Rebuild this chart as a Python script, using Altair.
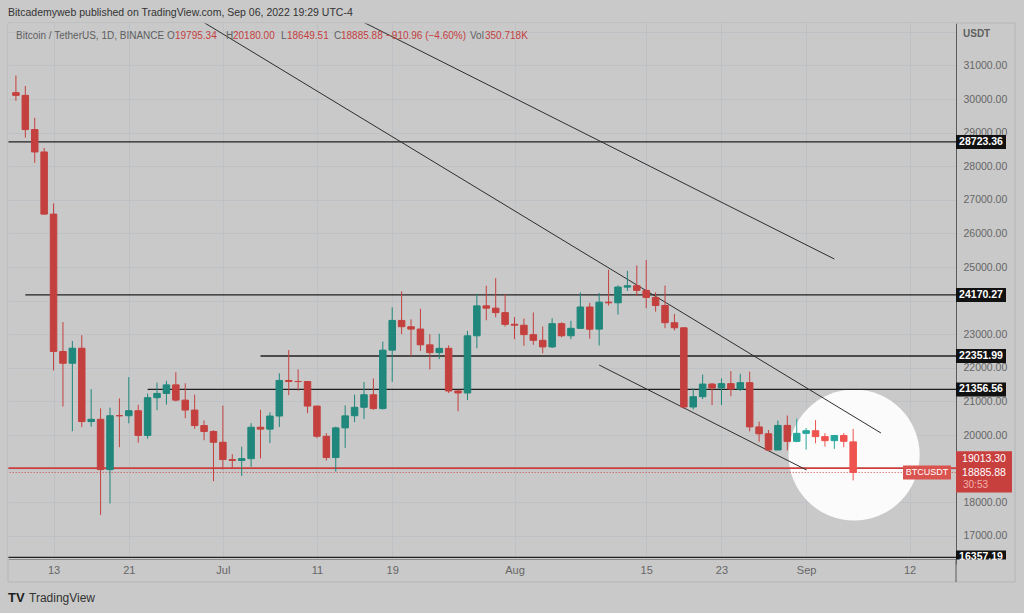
import altair as alt
import pandas as pd

# ---------------- data ----------------
dates = pd.date_range("2022-06-09", "2022-09-06", freq="D").strftime("%Y-%m-%d").tolist()

opens = [30189, 30109, 29091, 28424, 26574, 22485, 22136, 22583, 20401, 20468, 18970, 20575, 20574, 20723, 19988, 21111, 21237, 21492, 21038, 20742, 20281, 20105,
         19785, 19270, 19243, 19297, 20232, 20175, 20565, 21624, 21594, 21592, 20862, 19963, 19329, 20213, 20574, 20825, 21198, 20786, 22526, 23410, 23222, 23153, 22684, 22452, 22579, 21311, 21251, 22953, 23845, 23776, 23642,
         23296, 23268, 22986, 22818, 22622, 23313, 22954, 23175, 23810, 23151, 23954, 23934, 24402, 24443, 24305, 24094, 23856, 23342, 23191, 20834, 21140, 21516, 21400, 21529, 21368, 21559, 20240, 20037, 19555, 20286, 19812,
         20050, 20127, 19952, 19832, 19986, 19796]
highs = [30700, 30387, 29440, 28544, 26895, 23362, 22800, 22974, 21365, 20792, 20815, 21090, 21723, 20900, 21233, 21558, 21614, 21868, 21540, 21198, 20432, 20142,
         20876, 19430, 19653, 20354, 20750, 20675, 21838, 22527, 21951, 21600, 20863, 20055, 20250, 20880, 21200, 21578, 21684, 22780, 23800, 24276, 23442, 23756, 22998, 23014, 22666, 21347, 23100, 24199, 24442, 24668, 24194,
         23509, 23466, 23647, 23228, 23475, 23354, 23400, 24245, 23933, 24226, 24918, 24456, 24888, 25047, 25211, 24247, 24446, 23600, 23208, 21382, 21800, 21548, 21684, 21900, 21819, 21886, 20399, 20148, 20433, 20580, 20489,
         20208, 20444, 20055, 20000, 20058, 20180]
lows = [29944, 28850, 28099, 26560, 21925, 20846, 20111, 20233, 20247, 17622, 17960, 19637, 20348, 19770, 19890, 20740, 20906, 21000, 20500, 20183, 19846, 18626,
        18975, 19000, 18781, 19055, 19305, 19761, 20238, 21189, 21319, 20650, 19900, 19240, 18910, 19617, 20383, 20475, 20752, 20761, 21583, 23000, 22341, 22500, 21950, 22258, 21250, 20706, 21042, 22582, 23414, 23502, 23227,
        22850, 22655, 22681, 22432, 22589, 22909, 22850, 23154, 22865, 22664, 23852, 23583, 24289, 24144, 23773, 23671, 23180, 23111, 20783, 20761, 21069, 20890, 20891, 21154, 21310, 20107, 19800, 19520, 19550, 19540, 19785,
        19565, 19754, 19655, 19587, 19636, 18649]
closes = [30109, 29091, 28424, 26574, 22487, 22136, 22583, 20401, 20468, 18970, 20574, 20574, 20723, 19987, 21110, 21237, 21491, 21038, 20743, 20281, 20104, 19785,
          19270, 19243, 19297, 20231, 20175, 20564, 21624, 21594, 21591, 20862, 19963, 19329, 20212, 20570, 20825, 21198, 20786, 22525, 23410, 23223, 23152, 22684, 22452, 22579, 21310, 21251, 22952, 23843, 23775, 23642, 23293,
          23268, 22988, 22819, 22622, 23313, 22954, 23175, 23810, 23149, 23954, 23934, 24403, 24442, 24305, 24094, 23854, 23342, 23191, 20834, 21140, 21516, 21399, 21529, 21368, 21559, 20241, 20037, 19555, 20285, 19811, 20050,
          20127, 19952, 19832, 19986, 19813, 18886]

# x-axis ticks
tick_dates = ["2022-06-13", "2022-06-21", "2022-07-01", "2022-07-11", "2022-07-19",
              "2022-08-01", "2022-08-15", "2022-08-23", "2022-09-01", "2022-09-12"]
tick_labels = ["13", "21", "Jul", "11", "19", "Aug", "15", "23", "Sep", "12"]
price_ticks = [17000, 18000, 19000, 20000, 21000, 22000, 23000, 24000, 25000,
               26000, 27000, 28000, 29000, 30000, 31000, 32000]
hidden_ticks = [19000, 24000, 32000]   # covered by price tags / replaced by "USDT"

# horizontal levels drawn by the author
level_prices = [28723.36, 24170.27, 22351.99, 21356.56, 16357.19]
level_start = ["2022-06-01", "2022-06-10", "2022-07-05", "2022-06-23", "2022-06-01"]
level_end = "2022-10-31"
red_level = 19013.30
last_price = 18885.88

# trend lines: (line id, days after 13 Jun, price)
trend_id = ["a", "a", "b", "b", "c", "c"]
trend_day = [15.9, 87.95, 32.9, 83.0, 58.0, 80.05]
trend_price = [32292, 20060, 32292, 25238, 22083, 18958]

# highlight circle (days after 13 Jun, price)
circle_day = [85.1]
circle_price = [19405]
highlight_from = "2022-08-31"

# ---------------- derived tables ----------------
REF = pd.Timestamp("2022-06-13")
def day_of(s):
    return (pd.to_datetime(s) - REF).days

df = pd.DataFrame({"date": dates, "open": opens, "high": highs, "low": lows, "close": closes})
df["day"] = [day_of(d) for d in dates]
hi_day = day_of(highlight_from)
df["tone"] = [("up" if c >= o else "down") + ("_hi" if d >= hi_day else "")
              for o, c, d in zip(df["open"], df["close"], df["day"])]

levels = pd.DataFrame({"price": level_prices,
                       "start": [day_of(s) for s in level_start],
                       "end": [day_of(level_end)] * len(level_prices),
                       "label": [f"{p:.2f}" for p in level_prices]})
trends = pd.DataFrame({"id": trend_id, "day": trend_day, "price": trend_price})
circle = pd.DataFrame({"day": circle_day, "price": circle_price})
redlv = pd.DataFrame({"price": [red_level], "start": [day_of("2022-06-01")], "end": [day_of(level_end)]})
lastp = pd.DataFrame({"price": [last_price], "start": [day_of("2022-06-01")], "end": [day_of(level_end)]})
redbox = pd.DataFrame({"top": [red_level], "bottom": [last_price]})

tick_days = [day_of(d) for d in tick_dates]
x_label_expr = " : ".join([f"datum.value == {d} ? '{l}'" for d, l in zip(tick_days, tick_labels)]) + " : ''"
y_label_expr = (" || ".join([f"datum.value == {v}" for v in hidden_ticks])
                + " ? '' : format(datum.value, '.2f')")

# ---------------- styling ----------------
W, H = 948, 536
BG = "#c9c9c9"
GRID = "#bec1c6"
RED = "#c4403e"
GREEN = "#1f877b"
TXT = "#666666"
FONT = "Liberation Sans"

x_scale = alt.Scale(domain=[-4.31, 95.4], nice=False, zero=False)
y_scale = alt.Scale(domain=[16310, 32262], nice=False, zero=False)
x_axis = alt.Axis(values=tick_days, labelExpr=x_label_expr, grid=True, gridColor=GRID,
                  ticks=False, domainColor="#8c8c8c", labelColor=TXT, labelFontSize=11,
                  labelFont="Liberation Sans Narrow, Liberation Sans", labelPadding=5,
                  title=None, labelFlush=False, labelOverlap=False)
y_axis = alt.Axis(orient="right", values=price_ticks, labelExpr=y_label_expr,
                  grid=True, gridColor=GRID, ticks=False, domainColor="#5a5a5a",
                  labelColor=TXT, labelFontSize=10.5, labelFont=FONT, labelPadding=7,
                  labelAlign="left", title=None, labelOverlap=False)

def X(f):
    return alt.X(f, type="quantitative", scale=x_scale, axis=x_axis)

def Y(f):
    return alt.Y(f, type="quantitative", scale=y_scale, axis=y_axis)

tone_scale = alt.Scale(domain=["up", "down", "up_hi", "down_hi"],
                       range=[GREEN, RED, "#26a69a", "#ef5350"])

layers = []

# spotlight circle
layers.append(alt.Chart(circle).mark_point(filled=True, shape="circle", size=17200,
                                            color="white", opacity=0.93, clip=True)
              .encode(x=X("day"), y=Y("price")))

# horizontal levels
layers.append(alt.Chart(levels).mark_rule(color="#202020", strokeWidth=1.3, clip=True)
              .encode(x=X("start"), x2="end", y=Y("price")))
layers.append(alt.Chart(redlv).mark_rule(color="#cc3f3d", strokeWidth=1.6, clip=True)
              .encode(x=X("start"), x2="end", y=Y("price")))
layers.append(alt.Chart(lastp).mark_rule(color="#cc3f3d", strokeWidth=1, strokeDash=[1, 2], clip=True)
              .encode(x=X("start"), x2="end", y=Y("price")))

# trend lines
layers.append(alt.Chart(trends).mark_line(color="#2e2e2e", strokeWidth=1, clip=True)
              .encode(x=X("day"), y=Y("price"), detail="id:N"))

# candles
base = alt.Chart(df)
layers.append(base.mark_rule(strokeWidth=1, clip=True).encode(
    x=X("day"), y=Y("low"), y2="high",
    color=alt.Color("tone:N", scale=tone_scale, legend=None)))
layers.append(base.mark_bar(size=6.5, strokeWidth=1, clip=True).encode(
    x=X("day"), y=Y("open"), y2="close",
    fill=alt.Fill("tone:N", scale=tone_scale, legend=None),
    stroke=alt.Stroke("tone:N", scale=tone_scale, legend=None)))

# price labels on the right scale (black boxes)
layers.append(alt.Chart(levels).mark_rect(color="#111111", yOffset=-7, y2Offset=7)
              .encode(x=alt.value(W), x2=alt.value(W + 50), y=Y("price"), y2="price"))
layers.append(alt.Chart(levels).mark_text(color="white", fontSize=10.5, fontWeight="bold",
                                          font=FONT, align="center", baseline="middle")
              .encode(x=alt.value(W + 25), y=Y("price"), text="label:N"))

# red last-price box
layers.append(alt.Chart(redbox).mark_rect(color="#c8403e", yOffset=-17, y2Offset=20)
              .encode(x=alt.value(W), x2=alt.value(W + 56), y=Y("top"), y2="bottom"))
layers.append(alt.Chart(redbox).mark_text(color="white", fontSize=10.5, font=FONT,
                                          align="center", baseline="middle", dy=-9)
              .encode(x=alt.value(W + 28), y=Y("top"), text=alt.value(f"{red_level:.2f}")))
layers.append(alt.Chart(redbox).mark_text(color="white", fontSize=10.5, font=FONT,
                                          align="center", baseline="middle", dy=1)
              .encode(x=alt.value(W + 28), y=Y("bottom"), text=alt.value(f"{last_price:.2f}")))
layers.append(alt.Chart(redbox).mark_text(color="#f3b0ae", fontSize=10, font=FONT,
                                          align="left", baseline="middle", dy=13)
              .encode(x=alt.value(W + 7), y=Y("bottom"), text=alt.value("30:53")))

# BTCUSDT tag
layers.append(alt.Chart(redbox).mark_rect(color="#d9534f", yOffset=-7, y2Offset=7)
              .encode(x=alt.value(W - 53), x2=alt.value(W - 5), y=Y("bottom"), y2="bottom"))
layers.append(alt.Chart(redbox).mark_text(color="white", fontSize=9, font=FONT,
                                          align="center", baseline="middle")
              .encode(x=alt.value(W - 29), y=Y("bottom"), text=alt.value("BTCUSDT")))

# cover for the corner below the price scale
one = pd.DataFrame({"k": [0]})
layers.append(alt.Chart(one).mark_rect(color=BG)
              .encode(x=alt.value(W + 0.5), x2=alt.value(W + 66), y=alt.value(H + 0.5), y2=alt.value(H + 40)))

# frame
layers.append(alt.Chart(one).mark_rect(fill=None, stroke="#b3b5b9", strokeWidth=1)
              .encode(x=alt.value(0), x2=alt.value(W + 59), y=alt.value(0), y2=alt.value(H + 23)))
layers.append(alt.Chart(one).mark_rule(color="#5a5a5a", strokeWidth=1)
              .encode(x=alt.value(W), y=alt.value(H), y2=alt.value(H + 23)))

# texts
def txt(s, x, y, color, size=10, weight="normal"):
    return alt.Chart(one).mark_text(text=s, color=color, fontSize=size, fontWeight=weight,
                                    font=FONT, align="left", baseline="middle").encode(
        x=alt.value(x), y=alt.value(y))

HEAD_Y = 13
GRAY = "#5f5f5f"
HRED = "#c4403e"
layers += [
    txt("Bitcademyweb published on TradingView.com, Sep 06, 2022 19:29 UTC-4", 0, -10, "#333333", 10.5),
    txt("Bitcoin / TetherUS, 1D, BINANCE", 8, HEAD_Y, GRAY),
    txt("O", 159, HEAD_Y, GRAY), txt("19795.34", 167, HEAD_Y, HRED),
    txt("H", 218, HEAD_Y, GRAY), txt("20180.00", 225, HEAD_Y, HRED),
    txt("L", 273, HEAD_Y, GRAY), txt("18649.51", 279, HEAD_Y, HRED),
    txt("C", 326, HEAD_Y, GRAY), txt("18885.88", 333, HEAD_Y, HRED),
    txt("\u2212910.96 (\u22124.60%)", 378, HEAD_Y, HRED),
    txt("Vol", 462, HEAD_Y, GRAY), txt("350.718K", 477, HEAD_Y, HRED),
    txt("USDT", W + 7, 11, "#5f5f5f", 10, "bold"),
    txt("TV", 0, 575, "#1e1e1e", 13, "bold"),
    txt("TradingView", 21, 575, "#333333", 12),
]

chart = alt.layer(*layers).properties(
    width=W, height=H,
    autosize=alt.AutoSizeParams(type="none"),
    padding={"left": 8, "top": 23, "right": 68, "bottom": 54},
    background=BG,
).configure_view(stroke="#b3b5b9", fill=BG).configure(font=FONT)

chart.save("out.html", embed_options={"renderer": "svg", "actions": False})
